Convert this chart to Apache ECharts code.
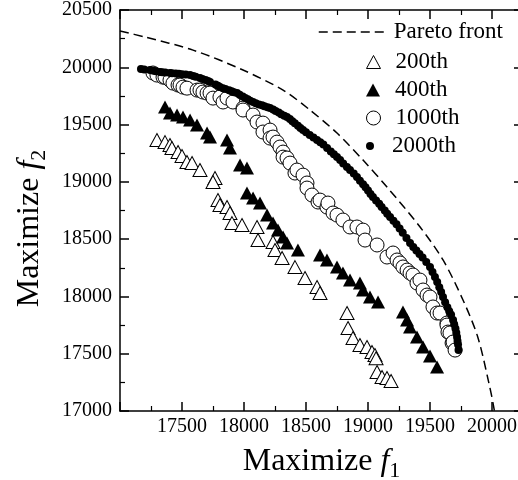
<!DOCTYPE html>
<html><head><meta charset="utf-8">
<script src="https://cdn.jsdelivr.net/npm/echarts@6/dist/echarts.min.js"></script>
<style>html,body{margin:0;padding:0;background:#fff}#c{width:518px;height:480px}</style>
</head><body><div id="c"></div>
<script>
const seriesNames = ['Pareto front', '200th', '400th', '1000th', '2000th'];
const xTickLabels = [17500, 18000, 18500, 19000, 19500, 20000];
const yTickLabels = [17000, 17500, 18000, 18500, 19000, 19500, 20000, 20500];

const paretoFront = [
  [17000,20316],[17202,20264],[17589,20150],[17992,19976],[18315,19801],[18532,19627],
  [18750,19426],[18960,19190],[19153,18955],[19420,18606],[19605,18318],[19766,17969],
  [19885,17646],[19975,17244],[20018,17009],[20035,16850]
];
const gen200 = [
  [17298,19365],[17363,19347],[17403,19321],[17419,19295],[17468,19260],[17500,19225],
  [17540,19173],[17581,19164],[17645,19103],[17766,19033],[17750,18998],[17790,18841],
  [17806,18798],[17863,18780],[17887,18728],[17903,18640],[17984,18623],[18105,18606],
  [18113,18492],[18234,18475],[18250,18405],[18307,18335],[18411,18256],[18492,18161],
  [18589,18082],[18613,18030],[18831,17855],[18839,17724],[18879,17637],[18935,17576],
  [18992,17558],[19032,17515],[19056,17489],[19065,17460],[19073,17340],[19113,17297],
  [19153,17288],[19186,17262]
];
const gen400 = [
  [17363,19653],[17403,19600],[17460,19583],[17508,19565],[17565,19539],[17621,19496],
  [17702,19426],[17726,19391],[17863,19365],[17887,19295],[17968,19147],[18024,19120],
  [18024,18902],[18073,18859],[18129,18815],[18186,18710],[18234,18641],[18274,18579],
  [18315,18518],[18347,18466],[18435,18405],[18613,18361],[18669,18318],[18750,18257],
  [18798,18204],[18855,18143],[18935,18117],[18960,18056],[19016,17995],[19081,17951],
  [19282,17864],[19315,17794],[19339,17733],[19395,17646],[19444,17558],[19500,17480],
  [19557,17384]
];
const gen1000 = [
  [17266,19950],[17298,19932],[17347,19914],[17363,19914],[17403,19888],[17427,19862],
  [17468,19845],[17484,19845],[17508,19827],[17540,19818],[17621,19801],[17645,19801],
  [17669,19784],[17702,19775],[17726,19775],[17750,19731],[17806,19740],[17831,19697],
  [17863,19731],[17911,19697],[17992,19644],[17992,19627],[18073,19583],[18105,19522],
  [18153,19513],[18153,19435],[18210,19452],[18210,19382],[18234,19391],[18266,19347],
  [18290,19304],[18315,19260],[18315,19216],[18347,19208],[18371,19164],[18411,19077],
  [18427,19103],[18476,19059],[18508,18990],[18508,18946],[18548,18885],[18597,18824],
  [18613,18841],[18669,18780],[18677,18815],[18718,18728],[18750,18710],[18798,18667],
  [18855,18606],[18911,18606],[18960,18579],[18976,18492],[19073,18449],[19153,18344],
  [19202,18379],[19234,18318],[19258,18292],[19282,18257],[19315,18230],[19339,18204],
  [19363,18187],[19395,18117],[19419,18143],[19444,18056],[19476,18012],[19500,17995],
  [19524,17908],[19557,17855],[19581,17855],[19637,17768],[19637,17750],[19645,17689],
  [19661,17681],[19678,17593],[19686,17602],[19702,17532]
];
const gen2000 = [
  [17169,19984],[17195,19980],[17242,19976],[17270,19970],[17290,19966],[17323,19958],
  [17340,19957],[17365,19955],[17403,19950],[17420,19948],[17450,19945],[17475,19943],
  [17500,19940],[17530,19936],[17565,19932],[17590,19925],[17610,19918],[17645,19906],
  [17665,19898],[17690,19890],[17710,19880],[17726,19871],[17770,19850],[17790,19838],
  [17806,19827],[17830,19818],[17850,19810],[17880,19800],[17900,19790],[17920,19783],
  [17944,19775],[17965,19760],[17990,19745],[18010,19732],[18030,19720],[18050,19708],
  [18073,19696],[18095,19686],[18120,19675],[18145,19668],[18165,19660],[18190,19652],
  [18210,19644],[18235,19632],[18255,19618],[18280,19605],[18300,19590],[18325,19578],
  [18347,19565],[18370,19548],[18390,19530],[18410,19512],[18435,19490],[18455,19470],
  [18476,19452],[18500,19432],[18530,19410],[18560,19388],[18589,19365],[18615,19345],
  [18640,19325],[18670,19295],[18700,19265],[18725,19240],[18750,19216],[18775,19190],
  [18800,19160],[18830,19130],[18855,19103],[18885,19072],[18911,19042],[18935,19010],
  [18960,18980],[18980,18953],[19000,18925],[19020,18895],[19040,18867],[19065,18838],
  [19090,18810],[19110,18780],[19135,18750],[19155,18722],[19178,18693],[19205,18660],
  [19230,18630],[19255,18592],[19280,18555],[19310,18510],[19339,18466],[19365,18432],
  [19390,18400],[19415,18370],[19440,18340],[19470,18300],[19500,18257],[19520,18213],
  [19540,18169],[19558,18125],[19575,18080],[19590,18038],[19605,17995],[19622,17950],
  [19640,17905],[19655,17870],[19670,17840],[19686,17794],[19695,17757],[19705,17720],
  [19712,17683],[19718,17646],[19722,17612],[19726,17580],[19730,17532]
];

const FONT = 'Liberation Serif';
const chart = echarts.init(document.getElementById('c'), null, {renderer: 'canvas'});

const nameStyle = {
  fontFamily: FONT, fontSize: 32, lineHeight: 40, color: '#000',
  rich: {
    f: {fontFamily: FONT, fontStyle: 'italic', fontSize: 32, lineHeight: 40, color: '#000'},
    s: {fontFamily: FONT, fontSize: 22, lineHeight: 18, verticalAlign: 'bottom', color: '#000'}
  }
};
const lineStyleAxis = {color: '#000', width: 1.5};
function baseAxis(extra) {
  return Object.assign({
    type: 'value',
    splitLine: {show: false},
    axisLine: {show: true, onZero: false, lineStyle: lineStyleAxis},
    axisTick: {show: true, inside: true, length: 9, lineStyle: lineStyleAxis},
    minorTick: {show: true, splitNumber: 2, length: 5, lineStyle: {color: '#000', width: 1.2}},
    minorSplitLine: {show: false}
  }, extra);
}
const legendText = {fontFamily: FONT, fontSize: 23, lineHeight: 24, color: '#000'};
const legendTextPad = Object.assign({}, legendText, {padding: [0, 0, 0, 10]});

chart.setOption({
  animation: false,
  backgroundColor: '#fff',
  grid: {left: 120, top: 10, width: 403, height: 401, outerBoundsMode: 'none', containLabel: false},
  xAxis: [
    baseAxis({
      min: 17000, max: 20250, interval: 500, position: 'bottom',
      axisLabel: {fontFamily: FONT, fontSize: 20, color: '#000', margin: 6,
        formatter: v => xTickLabels.includes(v) ? String(v) : ''},
      name: 'Maximize {f|f}{s|1}', nameLocation: 'middle', nameGap: 26,
      nameTextStyle: nameStyle
    }),
    baseAxis({min: 17000, max: 20250, interval: 500, position: 'top', axisLabel: {show: false}})
  ],
  yAxis: [
    baseAxis({
      min: 17000, max: 20500, interval: 500, position: 'left',
      axisLabel: {fontFamily: FONT, fontSize: 20, color: '#000', margin: 8,
        formatter: v => yTickLabels.includes(v) ? String(v) : ''},
      name: 'Maximize {f|f}{s|2}', nameLocation: 'middle', nameGap: 70,
      nameTextStyle: Object.assign({}, nameStyle, {padding: [0, 36, 0, 0]})
    }),
    baseAxis({min: 17000, max: 20500, interval: 500, position: 'right', axisLabel: {show: false}})
  ],
  legend: [
    {data: [seriesNames[0]], left: 318, top: 20, padding: 0, itemWidth: 70, itemHeight: 14,
      textStyle: legendText, lineStyle: {width: 1.5, type: [9, 5], color: '#000'},
      itemStyle: {color: 'rgba(0,0,0,0)', borderColor: 'rgba(0,0,0,0)', borderWidth: 0}},
    {data: [{name: seriesNames[1], icon: 'triangle'}], left: 366, top: 50, padding: 0, itemWidth: 14, itemHeight: 13,
      textStyle: legendTextPad, itemStyle: {borderWidth: 1}},
    {data: [{name: seriesNames[2], icon: 'triangle'}], left: 366, top: 78, padding: 0, itemWidth: 14, itemHeight: 13,
      textStyle: legendTextPad, itemStyle: {borderWidth: 0}},
    {data: [{name: seriesNames[3], icon: 'circle'}], left: 366, top: 106, padding: 0, itemWidth: 14, itemHeight: 14,
      textStyle: legendTextPad, itemStyle: {borderWidth: 1}},
    {data: [{name: seriesNames[4], icon: 'circle'}], left: 366, top: 134, padding: 0, itemWidth: 14, itemHeight: 8,
      textStyle: legendTextPad, itemStyle: {borderWidth: 0}}
  ],
  series: [
    {name: seriesNames[0], type: 'line', data: paretoFront, smooth: 0.3, symbol: 'none', showSymbol: false,
      clip: true, lineStyle: {color: '#000', width: 1.5, type: [9, 5]}, itemStyle: {color: '#000'}, z: 1},
    {name: seriesNames[1], type: 'scatter', data: gen200, symbol: 'triangle', symbolSize: [14, 13],
      itemStyle: {color: '#fff', borderColor: '#000', borderWidth: 1, opacity: 1}, z: 2},
    {name: seriesNames[2], type: 'scatter', data: gen400, symbol: 'triangle', symbolSize: [14, 13],
      itemStyle: {color: '#000', borderWidth: 0, opacity: 1}, z: 2},
    {name: seriesNames[3], type: 'scatter', data: gen1000, symbol: 'circle', symbolSize: 14,
      itemStyle: {color: '#fff', borderColor: '#000', borderWidth: 1, opacity: 1}, z: 3},
    {name: seriesNames[4], type: 'scatter', data: gen2000, symbol: 'circle', symbolSize: 8,
      itemStyle: {color: '#000', borderWidth: 0, opacity: 1}, z: 4}
  ]
});
</script>
</body></html>
